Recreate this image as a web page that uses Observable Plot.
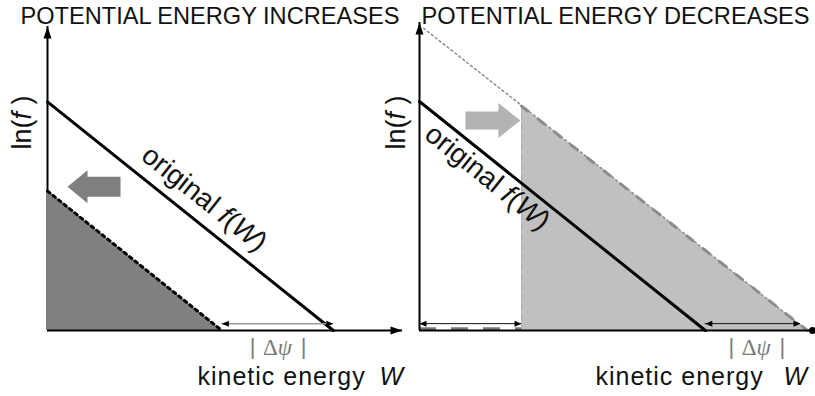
<!DOCTYPE html>
<html>
<head>
<meta charset="utf-8">
<script src="https://cdn.jsdelivr.net/npm/d3@7"></script>
<script src="https://cdn.jsdelivr.net/npm/@observablehq/plot@0.6"></script>
<style>
  html, body { margin: 0; padding: 0; background: #fff; }
  #wrap { position: relative; width: 815px; height: 396px; overflow: hidden; }
  #wrap svg { position: absolute; top: 0; }
</style>
</head>
<body>
<div id="wrap"></div>
<script>
// ---------- texts ----------
const titles = ["POTENTIAL ENERGY INCREASES", "POTENTIAL ENERGY DECREASES"];
const yLabel = "ln(_f_ )";
const xLabel = "kinetic energy";
const xSymbol = "W";
const curveLabel = "original _f_(_W_)";
const shiftSymbol = "Δ_ψ_";

// ---------- data (W = kinetic energy, lnf = ln f) ----------
const originalW = [0, 10];
const originalLnf = [10, 0];
// left panel: distribution shifted to lower W
const leftShiftedW = [0, 6.1];
const leftShiftedLnf = [6.1, 0];
const leftDeltaW = [6.1, 10];
// right panel: distribution shifted to higher W
const rightShiftedW = [3.57, 13.57];
const rightShiftedLnf = [9.8, 0];
const rightExtrapW = [0.14, 13.57];
const rightExtrapLnf = [13.2, 0];
const rightGapW = [0, 3.57];
const rightDeltaW = [10, 13.33];
// axis extents
const leftAxisMax = {W: 12.42, lnf: 13.3};
const rightAxisMax = {W: 13.75, lnf: 13.45};
// label anchors along the original line
const curveLabelW = [5.0, 2.75];
// shift arrows (tip positions)
const leftShiftTip = {W: 0.70, lnf: 6.29};
const rightShiftTip = {W: 3.53, lnf: 9.17};
const deltaArrowLnf = 0.3;

const pts = (ws, ls) => ws.map((w, i) => ({W: w, lnf: ls[i]}));
const original = pts(originalW, originalLnf);
const leftShifted = pts(leftShiftedW, leftShiftedLnf);
const rightShifted = pts(rightShiftedW, rightShiftedLnf);
const rightExtrap = pts(rightExtrapW, rightExtrapLnf);

// ---------- symbols ----------
const head = (len, half) => ({
  draw(c) { c.moveTo(0, 0); c.lineTo(half, len); c.lineTo(-half, len); c.closePath(); }
});
const blockArrow = (total, headLen, headHalf, bodyHalf) => ({
  draw(c) {
    c.moveTo(0, 0); c.lineTo(headHalf, headLen); c.lineTo(bodyHalf, headLen);
    c.lineTo(bodyHalf, total); c.lineTo(-bodyHalf, total); c.lineTo(-bodyHalf, headLen);
    c.lineTo(-headHalf, headLen); c.closePath();
  }
});

const SANS = "Liberation Sans, Arial, sans-serif";
const SERIF = "Liberation Serif, Times New Roman, serif";
const H = 396, MT_L = 26, MT_R = 22, MB = 66;
const baseY = H - MB;

function doubleArrow(w1, w2, lnf, stroke, sw) {
  return [
    Plot.ruleY([lnf], {x1: w1, x2: w2, stroke, strokeWidth: sw}),
    Plot.dot([{W: w1, lnf}], {x: "W", y: "lnf", symbol: head(7, 3), rotate: -90, fill: "black", stroke: "none"}),
    Plot.dot([{W: w2, lnf}], {x: "W", y: "lnf", symbol: head(7, 3), rotate: 90, fill: "black", stroke: "none"})
  ];
}

function deltaLabel(wc) {
  const common = {x: () => wc, y: () => 0, text: d => d, lineAnchor: "top", fill: "#7a7a7a"};
  return [
    Plot.text(["|"], {...common, dx: -25, dy: 8, fontFamily: SANS, fontSize: 22}),
    Plot.text(["|"], {...common, dx: 26, dy: 8, fontFamily: SANS, fontSize: 22}),
    Plot.text([shiftSymbol], {...common, dx: 0, dy: 8.5, fontFamily: SERIF, fontSize: 23})
  ];
}

function angleFor(axisMax, width, ml, mr, mt) {
  const pxW = (width - ml - mr) / axisMax.W;
  const pxL = (H - mt - MB) / axisMax.lnf;
  return Math.atan2(pxL, pxW) * 180 / Math.PI;
}

function richText(svg) {
  d3.select(svg).selectAll("text").each(function () {
    const t = this.textContent;
    if (t === xLabel) this.setAttribute("letter-spacing", "1");
    if (!t.includes("_")) return;
    const parts = t.split("_");
    this.textContent = "";
    parts.forEach((p, i) => {
      if (!p) return;
      const ts = document.createElementNS("http://www.w3.org/2000/svg", "tspan");
      ts.textContent = p;
      if (i % 2 === 1) ts.setAttribute("font-style", "italic");
      this.appendChild(ts);
    });
  });
}

const xFS = 25, wFS = 25;
const xDy = (384 - 0.71 * xFS) - baseY;
const wDy = (384 - 0.71 * wFS) - baseY;
const curveFS = 28, titleFS = 23.6, yFS = 27;

// ---------- left panel ----------
const WL = 410, MLL = 47, MRL = 8;
const angL = angleFor(leftAxisMax, WL, MLL, MRL, MT_L);
const svgL = Plot.plot({
  width: WL, height: H, marginLeft: MLL, marginRight: MRL, marginTop: MT_L, marginBottom: MB,
  x: {domain: [0, leftAxisMax.W], axis: null},
  y: {domain: [0, leftAxisMax.lnf], axis: null},
  style: {background: "transparent", overflow: "visible"},
  marks: [
    Plot.ruleX([0], {y1: 0, y2: leftAxisMax.lnf, strokeWidth: 2}),
    Plot.dot([{W: 0, lnf: leftAxisMax.lnf}], {x: "W", y: "lnf", symbol: head(12, 4), fill: "black", stroke: "none"}),
    Plot.areaY(leftShifted, {x: "W", y: "lnf", fill: "#808080"}),
    Plot.line(leftShifted, {x: "W", y: "lnf", stroke: "black", strokeWidth: 3, strokeDasharray: "3,4"}),
    Plot.ruleY([0], {x1: 0, x2: leftAxisMax.W, strokeWidth: 2}),
    Plot.dot([{W: leftAxisMax.W, lnf: 0}], {x: "W", y: "lnf", symbol: head(12, 4), rotate: 90, fill: "black", stroke: "none"}),
    Plot.line(original, {x: "W", y: "lnf", stroke: "black", strokeWidth: 3}),
    ...doubleArrow(leftDeltaW[0], leftDeltaW[1], deltaArrowLnf, "#999", 1.5),
    Plot.dot([leftShiftTip], {x: "W", y: "lnf", symbol: blockArrow(53, 20, 16.5, 10), rotate: -90, fill: "#7f7f7f", stroke: "none"}),
    Plot.text([titles[0]], {frameAnchor: "top-left", text: d => d, dx: 20 - MLL, dy: 7 - MT_L, fontFamily: SANS, fontSize: titleFS, fill: "#111"}),
    Plot.text([yLabel], {frameAnchor: "top-left", text: d => d, dx: 22 - MLL, dy: 122 - MT_L, rotate: -90, textAnchor: "middle", lineAnchor: "middle", fontFamily: SANS, fontSize: yFS, fill: "#111"}),
    Plot.text([{W: curveLabelW[0], lnf: 10 - curveLabelW[0], label: curveLabel}], {x: "W", y: "lnf", text: "label", dx: 14, dy: -17.5, rotate: angL, textAnchor: "middle", lineAnchor: "middle", fontFamily: SANS, fontSize: curveFS, fill: "#111"}),
    ...deltaLabel((leftDeltaW[0] + leftDeltaW[1]) / 2),
    Plot.text([xLabel], {frameAnchor: "bottom-left", text: d => d, dx: 197 - MLL, dy: xDy, lineAnchor: "top", textAnchor: "start", fontFamily: SANS, fontSize: xFS, fill: "#111"}),
    Plot.text([xSymbol], {frameAnchor: "bottom-left", text: d => d, dx: 379 - MLL, dy: wDy, lineAnchor: "top", textAnchor: "start", fontFamily: SANS, fontStyle: "italic", fontSize: wFS, fill: "#111"})
  ]
});

// ---------- right panel ----------
const OFF = 380, WR = 435, MLR = 419 - OFF, MRR = 3;
const angR = angleFor(rightAxisMax, WR, MLR, MRR, MT_R);
const svgR = Plot.plot({
  width: WR, height: H, marginLeft: MLR, marginRight: MRR, marginTop: MT_R, marginBottom: MB,
  x: {domain: [0, rightAxisMax.W], axis: null},
  y: {domain: [0, rightAxisMax.lnf], axis: null},
  style: {background: "transparent", overflow: "visible"},
  marks: [
    Plot.areaY(rightShifted, {x: "W", y: "lnf", fill: "#c0c0c0"}),
    Plot.ruleX([rightShiftedW[0]], {y1: 0, y2: rightShiftedLnf[0], stroke: "#a8a8a8", strokeWidth: 1, strokeDasharray: "6,4"}),
    Plot.line(rightExtrap, {x: "W", y: "lnf", stroke: "#8c8c8c", strokeWidth: 1.5, strokeDasharray: "2,3"}),
    Plot.line(rightShifted, {x: "W", y: "lnf", stroke: "#8c8c8c", strokeWidth: 3, strokeDasharray: "8,13"}),
    Plot.ruleY([0.08], {x1: rightGapW[0], x2: rightGapW[1], stroke: "#777", strokeWidth: 3, strokeDasharray: "17,15"}),
    Plot.ruleX([0], {y1: 0, y2: rightAxisMax.lnf, strokeWidth: 2}),
    Plot.dot([{W: 0, lnf: rightAxisMax.lnf}], {x: "W", y: "lnf", symbol: head(12, 4), fill: "black", stroke: "none"}),
    Plot.ruleY([0], {x1: 0, x2: rightAxisMax.W, strokeWidth: 2}),
    Plot.dot([{W: rightAxisMax.W, lnf: 0}], {x: "W", y: "lnf", r: 3.5, fill: "black", stroke: "none"}),
    Plot.line(original, {x: "W", y: "lnf", stroke: "black", strokeWidth: 3}),
    ...doubleArrow(rightGapW[0], rightGapW[1], deltaArrowLnf, "#111", 1),
    ...doubleArrow(rightDeltaW[0], rightDeltaW[1], deltaArrowLnf, "#111", 1),
    Plot.dot([rightShiftTip], {x: "W", y: "lnf", symbol: blockArrow(55, 22, 17.5, 9), rotate: 90, fill: "#b3b3b3", stroke: "none"}),
    Plot.text([titles[1]], {frameAnchor: "top-left", text: d => d, dx: 421 - 419, dy: 7 - MT_R, fontFamily: SANS, fontSize: titleFS, fill: "#111"}),
    Plot.text([yLabel], {frameAnchor: "top-left", text: d => d, dx: 396 - 419, dy: 122 - MT_R, rotate: -90, textAnchor: "middle", lineAnchor: "middle", fontFamily: SANS, fontSize: yFS, fill: "#111"}),
    Plot.text([{W: curveLabelW[1], lnf: 10 - curveLabelW[1], label: curveLabel}], {x: "W", y: "lnf", text: "label", dx: -10.5, dy: 13, rotate: angR, textAnchor: "middle", lineAnchor: "middle", fontFamily: SANS, fontSize: curveFS, fill: "#111"}),
    ...deltaLabel((10 + rightShiftedW[1]) / 2),
    Plot.text([xLabel], {frameAnchor: "bottom-left", text: d => d, dx: 595 - 419, dy: xDy, lineAnchor: "top", textAnchor: "start", fontFamily: SANS, fontSize: xFS, fill: "#111"}),
    Plot.text([xSymbol], {frameAnchor: "bottom-left", text: d => d, dx: 783 - 419, dy: wDy, lineAnchor: "top", textAnchor: "start", fontFamily: SANS, fontStyle: "italic", fontSize: wFS, fill: "#111"})
  ]
});

richText(svgL); richText(svgR);
svgL.style.left = "0px";
svgR.style.left = OFF + "px";
const wrap = document.getElementById("wrap");
wrap.appendChild(svgL);
wrap.appendChild(svgR);
</script>
</body>
</html>
